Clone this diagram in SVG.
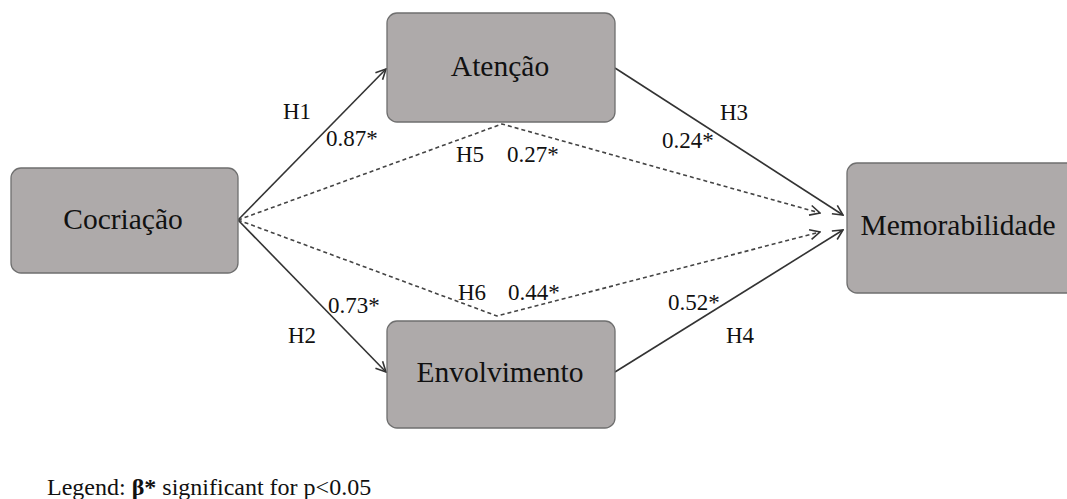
<svg xmlns="http://www.w3.org/2000/svg" width="1067" height="499" viewBox="0 0 1067 499">
<style>
.box{fill:#aeaaaa;stroke:#6f6f6f;stroke-width:1.3}
.nt{font-family:"Liberation Serif",serif;font-size:29.5px;fill:#111;text-anchor:middle}
.lb{font-family:"Liberation Serif",serif;font-size:23px;fill:#111}
.ln{fill:none;stroke:#333;stroke-width:1.6}
.ds{fill:none;stroke:#444;stroke-width:1.6;stroke-dasharray:4 3}
</style>
<defs>
<marker id="ah" viewBox="0 0 12 12" refX="11" refY="6" markerWidth="12" markerHeight="12" markerUnits="userSpaceOnUse" orient="auto">
<path d="M1,1 L11,6 L1,11" fill="none" stroke="#333" stroke-width="1.6"/>
</marker>
</defs>
<g id="connectors">
<line class="ln" x1="238" y1="220" x2="386" y2="69" marker-end="url(#ah)"/>
<line class="ln" x1="238" y1="220" x2="386" y2="372" marker-end="url(#ah)"/>
<line class="ln" x1="615" y1="68" x2="843" y2="215" marker-end="url(#ah)"/>
<line class="ln" x1="615" y1="372" x2="843" y2="230" marker-end="url(#ah)"/>
<polyline class="ds" points="238,220 502,124 820,213" marker-end="url(#ah)"/>
<polyline class="ds" points="238,220 497,316 820,232" marker-end="url(#ah)"/>
</g>
<g id="labels">
<text class="lb" x="283" y="119">H1</text>
<text class="lb" x="326" y="146">0.87*</text>
<text class="lb" x="456" y="162">H5</text>
<text class="lb" x="507" y="162">0.27*</text>
<text class="lb" x="720" y="120">H3</text>
<text class="lb" x="662" y="148">0.24*</text>
<text class="lb" x="458" y="300">H6</text>
<text class="lb" x="508" y="300">0.44*</text>
<text class="lb" x="328" y="313">0.73*</text>
<text class="lb" x="288" y="343">H2</text>
<text class="lb" x="668" y="310">0.52*</text>
<text class="lb" x="726" y="343">H4</text>
</g>
<g id="cocriacao">
<rect class="box" x="11" y="168" width="227" height="105" rx="10"/>
<text class="nt" x="123" y="229">Cocriação</text>
</g>
<g id="atencao">
<rect class="box" x="387" y="13" width="228" height="109" rx="10"/>
<text class="nt" x="500" y="76">Atenção</text>
</g>
<g id="envolvimento">
<rect class="box" x="387" y="321" width="228" height="107" rx="10"/>
<text class="nt" x="500" y="382">Envolvimento</text>
</g>
<g id="memorabilidade">
<rect class="box" x="847" y="163" width="230" height="130" rx="10"/>
<text class="nt" x="958" y="235">Memorabilidade</text>
</g>
<g id="legend">
<text x="47" y="495" style="font-family:'Liberation Serif',serif;font-size:24px;fill:#111">Legend: <tspan font-weight="bold">β*</tspan> significant for p&lt;0.05</text>
</g>
</svg>
